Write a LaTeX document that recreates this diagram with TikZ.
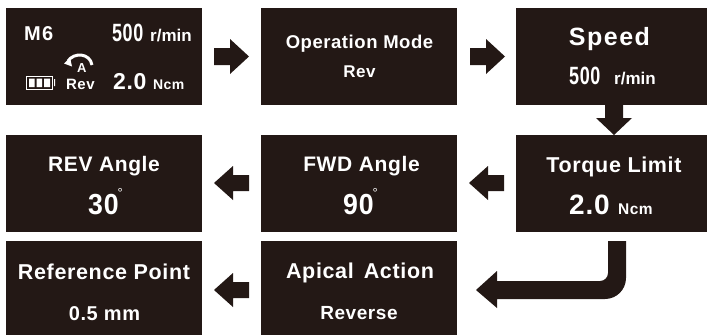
\documentclass[tikz,border=0pt]{standalone}
\usepackage{fontspec}
\usepackage{graphicx}
\setmainfont{Liberation Sans}[BoldFont={Liberation Sans Bold}]
\newfontfamily\wide{Liberation Sans Bold}[LetterSpace=3]
\newfontfamily\widest{Liberation Sans Bold}[LetterSpace=6]
\newcommand{\nar}[1]{\scalebox{0.72}[1]{#1}}
\newcommand{\narb}[1]{\scalebox{0.92}[1]{#1}}
\definecolor{ink}{HTML}{231815}
\tikzset{
  panel/.style={fill=ink,draw=none,inner sep=0pt,minimum height=97pt,minimum width=196pt,anchor=north west},
  label/.style={text=white,inner sep=0pt,anchor=base,font=\wide},
  blockarrow/.style={fill=ink,draw=none}
}
\newcommand{\fs}[1]{\fontsize{#1}{#1}\selectfont}
\begin{document}
\begin{tikzpicture}[x=1pt,y=-1pt]
\useasboundingbox (0,0) rectangle (707,335);
% panels
\node[panel] (main) at (6,8) {};
\node[panel] (mode) at (261,8) {};
\node[panel,minimum width=191pt] (speed) at (516,8) {};
\node[panel] (rev) at (6,135) {};
\node[panel] (fwd) at (261,135) {};
\node[panel,minimum width=191pt] (torque) at (516,135) {};
\node[panel,minimum height=94pt] (ref) at (6,241) {};
\node[panel,minimum height=94pt] (apical) at (261,241) {};
% main screen
\node[label,anchor=base west,font=\widest\fs{20}] (m6) at (24,40) {M6};
\node[label,anchor=base west,font=\wide\fs{25}] (r500) at (112,41) {\nar{500}};
\node[label,anchor=base west,font=\bfseries\fs{17}] (rmin) at (150,41) {r/min};
\node[label,anchor=base west,font=\wide\fs{23}] (t20) at (113,89) {2.0};
\node[label,anchor=base west,font=\wide\fs{14}] (ncm) at (153,89) {Ncm};
\node[label,anchor=base west,font=\wide\fs{15}] (revt) at (66,89) {Rev};
\node[label,anchor=base west,font=\bfseries\fs{13}] (a) at (77,72) {A};
% dial arrow
\draw[white,line width=3pt] (92,65) .. controls (90,53) and (74,52) .. (68,61);
\fill[white] (64,63.5) -- (70,57.5) -- (72,66.5) -- cycle;
% battery
\draw[white,line width=1pt] (26.5,76.5) rectangle (52.5,89);
\fill[white] (29,78.5) rectangle (34.5,87) (36.5,78.5) rectangle (42,87) (44,78.5) rectangle (50,87) (54,79) rectangle (55,86);
% other texts
\node[label,font=\wide\fs{18.5}] (t1) at (359.5,48) {Operation Mode};
\node[label,font=\wide\fs{17}] (t2) at (359.5,77.5) {Rev};
\node[label,font=\widest\fs{25}] (t3) at (609.5,45) {Speed};
\node[label,anchor=base west,font=\wide\fs{25}] (t4) at (569,84) {\nar{500}};
\node[label,anchor=base west,font=\bfseries\fs{17}] (t5) at (614,84) {r/min};
\node[label,font=\wide\fs{21.5}] (t6) at (614,172) {Torque Limit};
\node[label,anchor=base west,font=\wide\fs{28}] (t7) at (569,214) {2.0};
\node[label,anchor=base west,font=\wide\fs{15.5}] (t8) at (618,214) {Ncm};
\node[label,font=\wide\fs{21}] (t9) at (104,171) {REV Angle};
\node[label,anchor=base west,font=\wide\fs{29}] (t10) at (88,214) {\narb{30}};
\node[label,anchor=base west,font=\fs{13}] (t11) at (117.5,197) {°};
\node[label,font=\wide\fs{21}] (t12) at (361.5,171) {FWD Angle};
\node[label,anchor=base west,font=\wide\fs{29}] (t13) at (343,214) {\narb{90}};
\node[label,anchor=base west,font=\fs{13}] (t14) at (372.5,197) {°};
\node[label,font=\wide\fs{21.5}] (t15) at (104,279) {Reference Point};
\node[label,font=\wide\fs{20}] (t16) at (104.5,320) {0.5 mm};
\node[label,font=\wide\fs{21.5}] (t17) at (360,278) {Apical\hspace{10pt}Action};
\node[label,font=\wide\fs{19}] (t18) at (359,319) {Reverse};
% arrows
\fill[blockarrow] (214,48) -- (230,48) -- (230,39) -- (249,56.5) -- (230,74) -- (230,65) -- (214,65) -- cycle;
\fill[blockarrow] (470,48) -- (486,48) -- (486,39) -- (505,56.5) -- (486,74) -- (486,65) -- (470,65) -- cycle;
\fill[blockarrow] (605,105) -- (623,105) -- (623,118) -- (632,118) -- (614,135) -- (596,118) -- (605,118) -- cycle;
\fill[blockarrow] (504,175) -- (488,175) -- (488,166) -- (469,183) -- (488,200) -- (488,191) -- (504,191) -- cycle;
\fill[blockarrow] (249,175) -- (233,175) -- (233,166) -- (214,183) -- (233,200) -- (233,191) -- (249,191) -- cycle;
\fill[blockarrow] (249,282) -- (233,282) -- (233,273) -- (214,290) -- (233,307) -- (233,298) -- (249,298) -- cycle;
\fill[blockarrow] (608,241) -- (626,241) -- (626,278) .. controls (626,289.6) and (616.6,299) .. (605,299) -- (497,299) -- (497,308) -- (476,290) -- (497,271) -- (497,281) -- (600,281) .. controls (604.4,281) and (608,277.4) .. (608,273) -- cycle;
\end{tikzpicture}
\end{document}
